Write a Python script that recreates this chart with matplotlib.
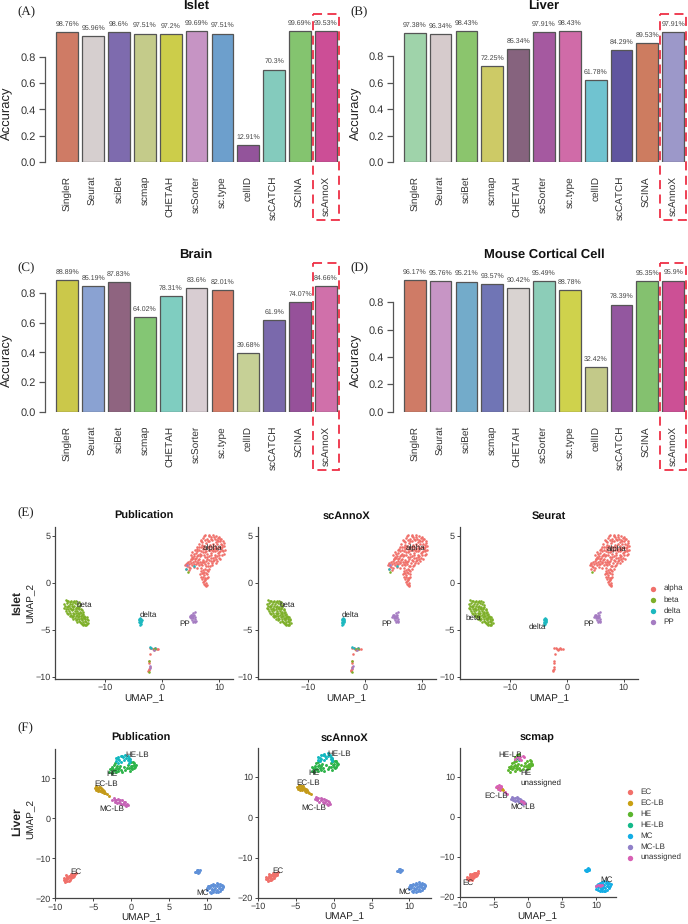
import matplotlib
matplotlib.use("Agg")
import matplotlib.pyplot as plt
from matplotlib.patches import Rectangle

W, H = 688, 924
plt.rcParams['font.family'] = ['Liberation Sans', 'DejaVu Sans']
plt.rcParams['text.hinting'] = 'no_hinting'
plt.rcParams['text.hinting_factor'] = 1

methods = ["SingleR", "Seurat", "sciBet", "scmap", "CHETAH", "scSorter", "sc.type", "cellID", "scCATCH", "SCINA", "scAnnoX"]
islet_acc = [98.76, 95.96, 98.6, 97.51, 97.2, 99.69, 97.51, 12.91, 70.3, 99.69, 99.53]
liver_acc = [97.38, 96.34, 98.43, 72.25, 85.34, 97.91, 98.43, 61.78, 84.29, 89.53, 97.91]
brain_acc = [88.89, 85.19, 87.83, 64.02, 78.31, 83.6, 82.01, 39.68, 61.9, 74.07, 84.66]
mouse_acc = [96.17, 95.76, 95.21, 93.57, 90.42, 95.49, 88.78, 32.42, 78.39, 95.35, 95.9]
islet_col = ['#CF7B65', '#D6CFCF', '#7E6BAE', '#C4CB8A', '#CCCD4A', '#C694C4', '#6D9FCC', '#93549B', '#84CBBD', '#84C46F', '#CC4E96']
liver_col = ['#9FD3AA', '#D6CBCC', '#8BC56D', '#CDCA66', '#86637E', '#A559A0', '#D06BA8', '#70C3D0', '#60559F', '#CD7C60', '#9C98C9']
brain_col = ['#CBC84A', '#8AA2D2', '#8F6480', '#84C674', '#7FCDC0', '#D8CDD2', '#D57B66', '#C6D096', '#7A69AC', '#96519A', '#D070AA']
mouse_col = ['#CF7B66', '#C795C5', '#73ABCA', '#7075B5', '#D9D3D1', '#8CCDB8', '#CFD24C', '#C3C989', '#93579F', '#84C16F', '#CC5095']

# ---------- Islet UMAP points ----------
alpha_pts = [
 (7.6,5.1),(8.2,4.95),(8.9,5.05),(9.5,5.0),(10.0,4.9),(7.2,4.75),(7.9,4.7),(8.5,4.85),(9.2,4.7),(9.8,4.75),(10.4,4.7),(10.7,4.45),
 (6.9,4.4),(7.5,4.5),(8.2,4.4),(8.8,4.5),(9.4,4.35),(10.1,4.45),(10.8,4.2),(6.4,4.15),(7.0,4.05),(7.7,4.2),(8.4,4.05),(9.0,4.15),
 (9.7,4.1),(10.3,4.15),(10.95,3.9),(6.2,3.8),(6.8,3.75),(7.4,3.9),(8.0,3.75),(8.7,3.85),(9.3,3.7),(10.0,3.85),(10.6,3.75),(11.0,3.45),
 (5.8,3.5),(6.5,3.45),(7.1,3.6),(7.7,3.4),(8.4,3.5),(9.0,3.35),(9.6,3.5),(10.2,3.4),(10.8,3.1),(5.3,3.25),(5.9,3.15),(6.6,3.1),
 (7.2,3.3),(7.9,3.05),(8.6,3.15),(9.3,3.0),(9.9,3.15),(10.5,2.9),(5.0,2.95),(5.6,2.85),(6.2,2.8),(6.9,2.9),(7.5,2.75),(8.2,2.8),
 (8.9,2.65),(9.6,2.8),(10.2,2.55),(5.2,2.55),(5.8,2.5),(6.5,2.55),(7.1,2.45),(7.8,2.5),(8.5,2.35),(9.1,2.4),(9.7,2.3),(4.9,2.3),
 (5.5,2.2),(6.1,2.25),(6.7,2.15),(7.4,2.2),(8.1,2.05),(8.8,2.1),(9.4,2.05),(4.3,2.1),(4.8,1.95),(5.3,1.9),(5.9,1.95),(6.5,1.85),
 (7.0,1.9),(7.7,1.8),(8.4,1.75),(4.0,1.85),(4.4,1.75),(4.9,1.6),(5.6,1.65),(6.2,1.6),(6.9,1.55),(7.6,1.45),(8.2,1.5),(4.2,1.5),
 (4.7,1.4),(6.8,1.25),(7.4,1.15),(8.0,1.2),(6.7,0.95),(7.3,0.85),(7.9,0.9),(6.9,0.65),(7.5,0.55),(8.0,0.6),(7.0,0.35),(7.6,0.25),
 (7.2,0.1),(7.7,0.0),(7.4,-0.1),(7.8,-0.2),(7.7,-0.3),(7.5,0.4),(6.95,1.0),(8.55,2.95),(9.95,2.6),(6.05,3.6),(7.55,3.25),(9.55,4.55),
 (8.3,5.1),(10.55,3.45),(6.75,4.5),(5.45,2.65),(8.15,3.5),(9.3,3.9),(7.25,2.15),(6.35,3.0),
 (7.4,4.95),(8.6,4.6),(9.05,4.9),(10.2,4.6),(7.05,4.3),(8.0,4.45),(9.75,4.4),(10.55,4.05),(6.55,3.85),(7.25,3.75),(8.25,3.85),(9.05,3.6),
 (9.7,3.7),(10.35,3.65),(5.55,3.05),(6.2,3.35),(6.85,3.4),(7.5,3.6),(8.75,3.45),(9.35,3.35),(10.0,3.3),(10.65,3.35),(5.3,2.75),(6.0,2.65),
 (6.65,2.8),(7.3,2.95),(7.95,2.7),(8.55,2.65),(9.25,2.7),(10.0,2.9),(5.05,2.5),(5.75,2.3),(6.35,2.4),(7.0,2.25),(7.65,2.3),(8.3,2.45),
 (8.95,2.35),(9.5,2.5),(4.55,2.2),(5.1,2.1),(5.65,2.0),(6.25,2.05),(6.85,1.95),(7.45,1.95),(8.0,1.75),(8.7,1.85),(4.2,2.0),(4.65,1.65),
 (7.15,1.4),(7.8,1.3),(7.1,1.05),(7.65,1.0),(7.25,0.65),(7.8,0.45),(7.4,0.2),(7.55,-0.25),
]
beta_pts = [
 (-17.0,-1.8),(-16.5,-1.9),(-16.0,-1.9),(-15.5,-1.95),(-17.3,-2.3),(-16.8,-2.2),(-16.3,-2.25),(-15.8,-2.3),(-15.3,-2.2),(-14.9,-2.3),(-14.5,-2.4),
 (-17.2,-2.7),(-16.7,-2.6),(-16.2,-2.65),(-15.7,-2.6),(-15.2,-2.7),(-14.8,-2.65),(-14.3,-2.75),(-16.9,-3.0),(-16.4,-3.05),(-15.9,-2.95),(-15.4,-3.05),
 (-14.9,-3.0),(-14.5,-3.1),(-14.0,-3.1),(-16.5,-3.35),(-16.0,-3.4),(-15.5,-3.35),(-15.0,-3.4),(-14.6,-3.35),(-14.1,-3.45),(-13.7,-3.5),(-15.9,-3.7),
 (-15.3,-3.75),(-14.8,-3.7),(-14.3,-3.75),(-13.8,-3.8),(-13.3,-3.7),(-15.2,-4.0),(-14.6,-4.05),(-14.1,-4.0),(-13.6,-4.1),(-13.1,-4.0),(-14.3,-4.3),
 (-13.8,-4.35),(-13.3,-4.4),(-13.0,-4.3),(-16.1,-2.85),(-15.05,-2.55),(-14.65,-3.55),(-16.65,-2.45),(-13.9,-4.55),(-13.4,-4.55),(-15.6,-3.55),
 (-16.75,-2.0),(-16.25,-2.05),(-15.7,-2.1),(-15.1,-2.0),(-14.7,-2.1),(-17.05,-2.5),(-16.45,-2.45),(-15.95,-2.5),(-15.5,-2.45),(-14.55,-2.6),(-17.0,-2.85),
 (-16.6,-2.85),(-15.65,-2.85),(-15.15,-2.85),(-14.7,-2.85),(-14.15,-2.95),(-16.7,-3.2),(-16.2,-3.2),(-15.7,-3.2),(-15.2,-3.2),(-14.75,-3.2),(-14.25,-3.25),
 (-13.85,-3.3),(-16.25,-3.55),(-15.75,-3.55),(-15.2,-3.55),(-14.35,-3.55),(-13.95,-3.6),(-13.5,-3.6),(-15.6,-3.85),(-15.05,-3.85),(-14.55,-3.9),(-14.05,-3.85),
 (-13.55,-3.85),(-13.2,-3.9),(-14.9,-4.15),(-14.4,-4.15),(-13.85,-4.15),(-13.4,-4.2),(-14.05,-4.4),(-13.6,-4.45),
]
delta_pts = [(-3.9,-3.75),(-3.7,-3.85),(-4.0,-4.0),(-3.75,-4.05),(-3.9,-4.15),(-3.65,-4.2),(-3.95,-4.3),(-3.8,-4.4),(-3.85,-3.9),(-3.95,-4.5),(-4.05,-3.9),(-3.6,-4.0),(-4.05,-4.2)]
pp_pts = [(5.8,-3.1),(5.5,-3.25),(5.2,-3.4),(5.5,-3.5),(4.9,-3.55),(5.3,-3.6),(5.7,-3.65),(5.1,-3.75),(5.5,-3.8),(5.8,-3.9),(5.3,-3.95),(5.6,-4.05),(5.9,-4.1),(5.4,-4.15),(5.0,-3.45),(5.65,-3.4),(5.2,-3.55),(4.85,-3.7),(5.75,-4.2)]
low_alpha_pts = [(-2.2,-6.9),(-1.9,-7.0),(-1.7,-7.1),(-1.4,-7.05),(-1.2,-7.0),(-1.0,-7.1),(-0.7,-7.05),(-1.5,-7.2),(-2.1,-7.6),(-2.3,-8.3),(-2.35,-8.5),(-2.4,-9.3),(-2.5,-9.45),(-2.2,-9.0),(-2.35,-9.15)]
stray_pub_delta = [(-2.2,-6.85),(-1.9,-6.95),(-1.2,-6.95),(4.2,1.5),(5.6,1.8)]
stray_pub_beta = [(-2.35,-8.35),(-1.5,-7.1),(-2.35,-9.55),(4.5,1.1),(-1.25,-7.1)]
stray_pub_pp = [(-2.1,-8.9),(-2.2,-9.1),(4.4,1.9),(-1.4,-7.15)]

islet_labels_a = {"alpha": (8.9, 3.7), "beta": (-13.7, -2.4), "delta": (-2.5, -3.4), "PP": (3.9, -4.4)}
islet_labels_c = {"alpha": (8.8, 3.6), "beta": (-16.5, -3.7), "delta": (-5.2, -4.7), "PP": (3.8, -4.4)}

# ---------- Liver UMAP points ----------
ec_pts = [(-8.9,-15.4),(-8.9,-14.9),(-8.7,-15.8),(-8.6,-15.1),(-8.5,-14.6),(-8.4,-15.6),(-8.3,-15.0),(-8.2,-14.3),(-8.1,-15.3),(-8.0,-14.6),(-7.9,-15.0),(-7.8,-14.1),(-7.7,-14.7),(-7.6,-13.9),(-7.5,-14.4),(-7.4,-14.0),(-7.3,-13.6),(-8.55,-14.2),(-8.25,-15.7),(-7.95,-13.9),(-8.75,-15.3),(-8.4,-14.8),(-8.05,-14.4),(-7.7,-14.3)]
eclb_pts = [(-4.8,7.6),(-4.7,7.1),(-4.6,8.0),(-4.5,7.4),(-4.4,6.9),(-4.3,7.9),(-4.2,7.2),(-4.1,6.8),(-4.0,7.7),(-3.9,7.0),(-3.8,6.5),(-3.7,7.1),(-3.6,6.4),(-3.4,6.3),(-3.2,6.0),(-3.0,5.7),(-4.35,7.3),(-4.15,7.9),(-4.55,7.7),(-3.85,7.4),(-3.55,6.8)]
he_pts = [(-2.9,11.6),(-2.8,12.4),(-2.6,11.3),(-2.5,12.8),(-2.4,11.9),(-2.3,13.4),(-2.2,12.1),(-2.1,13.8),(-2.0,11.5),(-1.9,13.0),(-1.8,12.3),(-1.7,11.9),(-1.5,13.2),(-1.4,12.2),(-1.2,11.6),(-1.0,12.9),(-0.8,12.0),(-0.6,12.6),(-0.4,13.4),(-0.2,11.9),(-0.1,14.0),(0.0,12.5),(0.1,13.2),(0.2,14.1),(0.3,12.6),(0.4,13.4),(0.5,12.9),(0.35,13.9),(-0.05,13.0),(-2.65,12.3),(-2.45,12.3),(-2.05,12.7),(-1.6,12.7),(0.15,12.3),(0.6,13.3),(-0.3,12.6)]
helb_pts = [(-2.0,14.3),(-2.0,15.0),(-1.8,13.9),(-1.7,15.4),(-1.6,14.6),(-1.4,15.6),(-1.3,14.2),(-1.1,15.3),(-1.0,14.7),(-0.8,15.9),(-0.7,15.2),(-0.5,15.6),(-0.4,14.6),(-0.3,15.1),(-0.2,14.4),(-0.25,13.9),(-0.15,14.8),(-1.75,14.8),(-1.2,15.7)]
mclb_pts = [(-2.5,4.5),(-2.3,5.0),(-2.2,4.2),(-2.0,4.7),(-1.9,3.9),(-1.7,4.9),(-1.6,4.2),(-1.5,4.6),(-1.3,3.6),(-1.2,4.5),(-1.1,3.7),(-1.0,4.2),(-0.9,3.3),(-0.8,4.0),(-0.7,3.1),(-0.6,3.7),(-0.5,3.4),(-2.15,4.6),(-1.45,3.9)]
mc_pts = [(8.4,-13.3),(8.6,-12.9),(8.7,-13.6),(8.8,-12.8),(8.9,-13.3),(9.0,-13.0),(8.55,-13.4),(8.75,-13.2),
 (9.9,-17.3),(10.0,-17.9),(10.1,-16.9),(10.2,-17.5),(10.3,-18.3),(10.4,-17.1),(10.5,-18.6),(10.5,-16.6),(10.6,-17.6),(10.7,-16.9),(10.8,-18.5),(10.8,-16.3),(10.9,-17.9),(11.0,-16.7),(11.0,-17.4),(11.1,-18.4),(11.2,-16.1),(11.2,-17.0),(11.3,-17.8),(11.4,-16.5),(11.5,-17.3),(11.6,-18.2),(11.7,-16.8),(11.8,-17.6),(11.9,-16.6),(12.0,-17.2),(12.1,-16.8),(10.25,-16.8),(10.65,-18.0),(11.35,-18.4),(11.6,-16.3),(11.9,-17.7)]
scmap_eclb_pts = [(-4.5,7.5),(-3.8,7.0),(-3.7,6.7),(-3.9,6.9)]
scmap_helb_pts = [(-1.6,14.6),(-1.3,14.3)]
scmap_un_pts = [(-1.9,14.4),(-1.7,14.9),(-1.4,14.5),(-1.1,14.2),(-0.8,15.3),(-0.6,15.0),(-1.2,15.0),(-4.7,7.5),(-4.5,7.8),(-4.3,7.3),(-4.1,7.1),(-4.0,7.5),(-3.4,6.3),(-3.1,5.8),(-1.0,3.9),(-0.8,3.6),(-0.6,3.5),(9.9,-17.2),(10.2,-17.0),(10.5,-16.9),(10.6,-17.3),(10.9,-17.0)]

liver_labels_a = {"HE-LB": (0.7, 15.8), "HE": (-2.55, 11.0), "EC-LB": (-3.3, 8.6), "MC-LB": (-2.6, 2.4), "EC": (-7.3, -13.4), "MC": (9.3, -18.6)}
liver_labels_c = {"HE-LB": (-2.7, 15.5), "HE": (-0.4, 11.0), "unassigned": (1.9, 8.25), "EC-LB": (-4.75, 5.3), "MC-LB": (-0.8, 2.5), "EC": (-8.9, -16.4), "MC": (11.5, -15.6)}

islet_cols = {"alpha": '#F0706A', "beta": '#7DAF28', "delta": '#1CB8BF', "PP": '#A57CC2'}
pub_cols = {"EC": '#F0706A', "EC-LB": '#C49A1A', "HE": '#2DB34A', "HE-LB": '#12B8C0', "MC-LB": '#C663B6', "MC": '#5F90D8'}
scmap_cols = {"EC": '#F2706A', "EC-LB": '#C9A013', "HE": '#5BB52E', "HE-LB": '#14B98A', "MC": '#13ADE5', "MC-LB": '#9080C8', "unassigned": '#D860B4'}

# ---------- layout ----------
fig = plt.figure(figsize=(W / 100, H / 100), dpi=100, facecolor='white')


def pax(l, r, t, b):
    return fig.add_axes([l / W, 1 - b / H, (r - l) / W, (b - t) / H])


ov = fig.add_axes([0, 0, 1, 1], zorder=10)
ov.set_xlim(0, W)
ov.set_ylim(H, 0)
ov.axis('off')
ov.patch.set_alpha(0)


def label(x, y, s, size=7, ha='center', rot=0, weight='normal', family=None, color='#222222'):
    kw = {'family': family} if family else {}
    ov.text(x, y, s, fontsize=size, ha=ha, va='center', rotation=rot, weight=weight, color=color, **kw)


GREY = '#555555'


def bars(title, vals, cols, ax_left, c0, step, y0, unit, tcx, tcy, tag, tagx, tagy, rect, accx, accy, lab_top):
    t = y0 - 1.1 * unit
    ax = pax(ax_left, ax_left + 295, t, y0)
    ax.patch.set_alpha(0)
    ax.set_xlim((ax_left - c0) / step, (ax_left + 295 - c0) / step)
    ax.set_ylim(0, 1.1)
    xs = range(len(vals))
    ax.bar(xs, [v / 100 for v in vals], width=0.84, color=cols, edgecolor=GREY, linewidth=0.9)
    for i, v in zip(xs, vals):
        ax.annotate(f"{v:g}%", (i, v / 100), xytext=(0, 3.4), textcoords='offset points',
                    ha='center', va='bottom', fontsize=5.1, color='#444444')
    for s in ['top', 'right', 'bottom']:
        ax.spines[s].set_visible(False)
    ax.spines['left'].set_bounds(0, 0.8)
    ax.spines['left'].set_color(GREY)
    ax.spines['left'].set_linewidth(0.9)
    ax.set_yticks([0, 0.2, 0.4, 0.6, 0.8])
    ax.set_yticklabels(['0.0', '0.2', '0.4', '0.6', '0.8'], fontsize=7.8, color='#333333')
    ax.tick_params(axis='y', length=4, width=0.9, color=GREY, pad=2.5)
    ax.set_xticks(list(xs))
    ax.set_xticklabels(methods, rotation=90, fontsize=7, color='#333333', va='top', ha='center')
    ax.tick_params(axis='x', length=0, pad=(lab_top - y0) * 0.72)
    label(tcx, tcy, title, size=9.2, weight='bold', color='#111111')
    label(tagx, tagy, tag, size=9.5, ha='left', family='Liberation Serif')
    label(accx, accy, 'Accuracy', size=9.3, rot=90)
    ov.add_patch(Rectangle((rect[0], rect[2]), rect[1] - rect[0], rect[3] - rect[2], fill=False,
                           edgecolor='#EE2F45', linewidth=1.3, linestyle=(0, (5, 3))))


bars('Islet', islet_acc, islet_col, 45.3, 67.2, 25.87, 162.3, 132, 196, 6, '(A)', 17, 11, (312.7, 339, 14, 220), 7, 113, 176)
bars('Liver', liver_acc, liver_col, 393, 414.7, 25.85, 162.3, 132.9, 544, 6, '(B)', 350.5, 11, (660, 686.3, 14, 220), 356, 113, 176)
bars('Brain', brain_acc, brain_col, 45.3, 67.2, 25.87, 411.7, 148, 196, 255, '(C)', 17, 266.7, (312.7, 339, 263.3, 470), 7, 360, 426)
bars('Mouse Cortical Cell', mouse_acc, mouse_col, 393, 414.7, 25.85, 411.7, 136.7, 544, 255, '(D)', 350.5, 267, (660, 686.3, 263.3, 470), 356, 360, 426)


def umap(l, r, t, b, xlim, ylim, xticks, yticks, layers, texts, size, xlabel_pos, ylabel=False, ylab_pos=None):
    ax = pax(l, r, t, b)
    ax.patch.set_alpha(0)
    ax.set_xlim(*xlim)
    ax.set_ylim(*ylim)
    for pts, col in layers:
        ax.scatter([p[0] for p in pts], [p[1] for p in pts], s=size, c=col, linewidths=0)
    for k, (x, y) in texts.items():
        ax.text(x, y, k, fontsize=6, ha='center', va='center', color='#222222')
    for s in ['top', 'right']:
        ax.spines[s].set_visible(False)
    for s in ['left', 'bottom']:
        ax.spines[s].set_color('#444444')
        ax.spines[s].set_linewidth(0.9)
    ax.set_xticks(xticks)
    ax.set_yticks(yticks)
    ax.tick_params(length=2, width=0.7, color='#444444', labelsize=6.3, labelcolor='#333333', pad=1.5)
    label(xlabel_pos[0], xlabel_pos[1], 'UMAP_1', size=6.9)
    if ylabel:
        label(ylab_pos[0], ylab_pos[1], 'UMAP_2', size=6.9, rot=90)


cI = islet_cols
pub_layers = [(alpha_pts, cI['alpha']), (low_alpha_pts, cI['alpha']), (beta_pts, cI['beta']), (delta_pts, cI['delta']),
              (pp_pts, cI['PP']), (stray_pub_delta, cI['delta']), (stray_pub_beta, cI['beta']), (stray_pub_pp, cI['PP'])]
xlimE = (-18.8, 12.45)
ylimE = (-10.25, 5.96)
xtE = [-10, 0, 10]
ytE = [-10, -5, 0, 5]
umap(55.3, 233, 526.7, 679, xlimE, ylimE, xtE, ytE, pub_layers, islet_labels_a, 3.4, (144, 698), True, (30.7, 603))
umap(258, 435.7, 526.7, 679, xlimE, ylimE, xtE, ytE, pub_layers, islet_labels_a, 3.4, (346.7, 698))
seurat_layers = [(alpha_pts, cI['alpha']), (low_alpha_pts, cI['alpha']), (beta_pts, cI['beta']), (delta_pts, cI['delta']),
                 (pp_pts, cI['PP']), (stray_pub_beta[3:4], cI['beta'])]
umap(460, 637.7, 526.7, 679, xlimE, ylimE, xtE, ytE, seurat_layers, islet_labels_c, 3.4, (549, 698))

pc = pub_cols
liver_layers = [(ec_pts, pc['EC']), (eclb_pts, pc['EC-LB']), (he_pts, pc['HE']), (helb_pts, pc['HE-LB']), (mc_pts, pc['MC']), (mclb_pts, pc['MC-LB'])]
xlimF = (-10, 12.8)
ylimF = (-20, 17.25)
xtF = [-10, -5, 0, 5, 10]
ytF = [-20, -10, 0, 10]
umap(55.3, 228.7, 749.3, 898.3, xlimF, ylimF, xtF, ytF, liver_layers, liver_labels_a, 4.5, (141.3, 917), True, (30.7, 819.3))
umap(257.7, 430.7, 748, 897.7, xlimF, ylimF, xtF, ytF, liver_layers, liver_labels_a, 4.5, (344, 916.7))
sc = scmap_cols
scmap_layers = [(ec_pts, sc['EC']), (he_pts + helb_pts[:6], sc['HE']), (mc_pts, sc['MC']), (mclb_pts, sc['MC-LB']),
                (eclb_pts[3:9], sc['unassigned']), (scmap_eclb_pts, sc['EC-LB']), (scmap_helb_pts, sc['HE-LB']), (scmap_un_pts, sc['unassigned'])]
umap(460, 615.7, 747.7, 897, (-10, 12.85), ylimF, xtF, ytF, scmap_layers, liver_labels_c, 4.5, (537.7, 916))

# titles, tags, row labels, legends
for x, s in [(144, 'Publication'), (346.7, 'scAnnoX'), (549, 'Seurat')]:
    label(x, 515.7, s, size=8, weight='bold', color='#111111')
for x, s in [(141.3, 'Publication'), (344, 'scAnnoX'), (537.3, 'scmap')]:
    label(x, 738, s, size=8, weight='bold', color='#111111')
label(17, 511.7, '(E)', size=9.5, ha='left', family='Liberation Serif')
label(17, 727, '(F)', size=9.5, ha='left', family='Liberation Serif')
label(16.7, 603, 'Islet', size=8.8, rot=90, weight='bold')
label(16.7, 822, 'Liver', size=8.8, rot=90, weight='bold')

for i, k in enumerate(islet_cols):
    y = 588.7 + i * 11
    ov.scatter([653], [y], s=15, c=islet_cols[k], linewidths=0)
    label(663.3, y, k, size=6.1, ha='left', color='#333333')
for i, k in enumerate(scmap_cols):
    y = 791.7 + i * 11
    ov.scatter([630.3], [y], s=15, c=scmap_cols[k], linewidths=0)
    label(640.7, y, k, size=6.1, ha='left', color='#333333')

fig.savefig('out.png', dpi=100, facecolor='white')
